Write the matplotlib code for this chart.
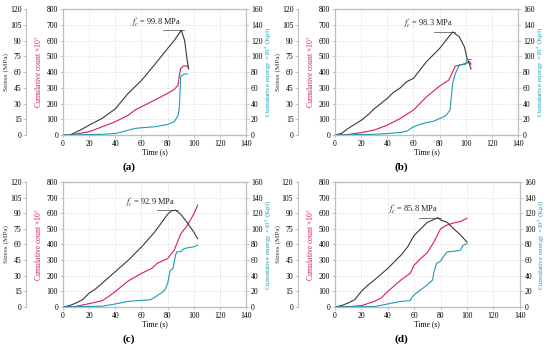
import matplotlib
matplotlib.use("Agg")
import matplotlib.pyplot as plt

plt.rcParams['font.family'] = ['Liberation Serif', 'DejaVu Serif']
plt.rcParams['mathtext.fontset'] = 'stix'

STRESS_C = '#3a3a3a'
COUNT_C = '#d81b60'
ENERGY_C = '#1e9bb8'
SPINE_C = '#bdbdbd'

# ---- panel (a) ----
a_stress_t = [0, 5, 8, 12, 18, 20, 30, 40, 50, 60, 70, 80, 85, 90, 90.5, 93, 95, 96]
a_stress = [0, 0, 1.6, 4, 8, 9.5, 16, 25, 40, 52, 67, 82.5, 90, 99, 99.8, 90, 71, 63]
a_count_t = [0, 5, 20, 30, 40, 50, 55, 60, 70, 80, 85, 88, 89, 90, 92, 95, 96]
a_count = [0, 0, 21, 53, 85, 127, 159, 180, 222, 265, 290, 317, 381, 423, 438, 440, 425]
a_energy_t = [0, 30, 40, 45, 50, 55, 60, 70, 80, 85, 88, 89, 90, 91, 93, 95]
a_energy = [0, 1, 2, 4, 6.3, 8.5, 9.3, 10.6, 13.5, 17, 25, 36, 74, 76, 77.5, 77.5]

# ---- panel (b) ----
b_stress_t = [0, 5, 10, 20, 25, 30, 40, 45, 50, 55, 60, 70, 80, 85, 90, 95, 99, 101, 103, 104]
b_stress = [0, 1.6, 6.3, 14, 19, 25, 35, 41, 45, 51, 54, 70, 82.5, 90.5, 98.3, 93.6, 84, 73, 67, 63]
b_count_t = [0, 10, 20, 30, 40, 50, 60, 70, 80, 87, 90, 92, 95, 100, 103, 104]
b_count = [0, 4, 15, 32, 63, 106, 159, 243, 311, 349, 402, 438, 444, 455, 466, 450]
b_energy_t = [0, 30, 40, 50, 55, 60, 65, 70, 75, 80, 85, 88, 90, 92, 95, 100, 101, 104]
b_energy = [0, 1, 2, 3.4, 5, 10.6, 13.5, 16, 17.4, 21, 25, 32, 66, 78, 89, 90, 96, 96]

# ---- panel (c) ----
c_stress_t = [0, 5, 10, 15, 20, 25, 30, 40, 50, 60, 70, 80, 83, 86, 90, 95, 100, 103]
c_stress = [0, 1.3, 3.8, 7, 13.3, 17.4, 22.8, 33.9, 45, 57.6, 71.8, 89, 92.4, 92.9, 89, 81, 71.8, 65.5]
c_count_t = [0, 10, 20, 30, 35, 40, 50, 60, 68, 72, 80, 85, 90, 95, 100, 103]
c_count = [0, 4, 21, 40, 67, 99, 167, 215, 247, 279, 310, 363, 468, 521, 595, 652]
c_energy_t = [0, 30, 40, 50, 60, 67, 70, 75, 78, 80, 82, 84, 86, 87, 90, 93, 100, 103]
c_energy = [0, 1, 3.8, 7.2, 8.4, 9.3, 12.2, 17.7, 22, 30, 47, 49, 66, 70.5, 71, 75, 77, 79]

# ---- panel (d) ----
d_stress_t = [0, 5, 10, 15, 20, 25, 30, 40, 50, 55, 60, 65, 70, 75, 78, 80, 85, 90, 95, 100]
d_stress = [0, 1.3, 3.8, 7, 15, 21, 26, 37, 49.7, 57.6, 68.7, 75, 81.3, 84, 85.8, 83.5, 81.3, 75, 69.3, 62.3]
d_count_t = [0, 10, 20, 30, 35, 40, 50, 57, 60, 65, 70, 75, 80, 85, 90, 95, 100]
d_count = [0, 2, 8, 36, 57, 99, 173, 215, 268, 310, 348, 416, 500, 525, 538, 547, 568]
d_energy_t = [0, 30, 40, 50, 57, 58, 60, 70, 74, 75, 77, 80, 82, 85, 90, 95, 97, 100]
d_energy = [0, 0.5, 3.8, 7.2, 8, 11.4, 15.6, 28.3, 34.6, 45, 55.7, 58.7, 64, 70.5, 71.3, 72.6, 79, 81]

peaks = [(90.5, 99.8), (90, 98.3), (86, 92.9), (78, 85.8)]
panel_labels = ['(a)', '(b)', '(c)', '(d)']

fig = plt.figure(figsize=(5.5, 3.5), dpi=100)


def style_axis(ax):
    for s in ax.spines.values():
        s.set_color(SPINE_C)
        s.set_linewidth(0.8)
    ax.tick_params(labelsize=5.5, length=2, width=0.6, color=SPINE_C, pad=1.5)


def draw_panel(rect, st_t, st, ct_t, ct, en_t, en, peak, label):
    ax = fig.add_axes(rect)
    ax.set_xlim(0, 140)
    ax.set_ylim(0, 800)
    ax.set_xticks(range(0, 141, 20))
    ax.set_yticks(range(0, 801, 100))
    ax.grid(True, color='#dddddd', linestyle=(0, (3, 2)), linewidth=0.5)
    style_axis(ax)
    ax.set_xlabel('Time (s)', fontsize=5.5, labelpad=0)
    ax.set_ylabel('Cumulative count ×10$^3$', fontsize=5.5, color=COUNT_C, labelpad=2)
    ax.plot(ct_t, ct, color=COUNT_C, lw=0.8, zorder=3)

    ax_s = ax.twinx()
    ax_s.spines['left'].set_position(('axes', -0.2))
    ax_s.spines['left'].set_visible(True)
    ax_s.spines['right'].set_visible(False)
    ax_s.yaxis.set_label_position('left')
    ax_s.yaxis.set_ticks_position('left')
    ax_s.set_ylim(0, 120)
    ax_s.set_yticks(range(0, 121, 15))
    style_axis(ax_s)
    ax_s.set_ylabel('Stress (MPa)', fontsize=5.2, color='#333333', labelpad=0.5)
    ax_s.plot(st_t, st, color=STRESS_C, lw=0.8, zorder=4)
    pt, pv = peak
    ax_s.plot([pt - 14, pt + 2], [pv, pv], color='#666666', lw=0.6)
    ax_s.text(pt, pv + 1.5, "$f_c^{\\prime}$ = %.1f MPa" % pv, ha='right', va='bottom',
              fontsize=6, color='#222222')

    ax_e = ax.twinx()
    ax_e.set_ylim(0, 160)
    ax_e.set_yticks(range(0, 161, 20))
    style_axis(ax_e)
    ax_e.set_ylabel('Cumulative energy ×10$^5$ (Kpl)', fontsize=5.2, color=ENERGY_C, labelpad=0.5)
    ax_e.plot(en_t, en, color=ENERGY_C, lw=0.8, zorder=3)

    x0, y0, w, h = rect
    fig.text(x0 + w * 0.36, y0 - 0.092, label, ha='center', va='center',
             fontsize=8, fontweight='bold')


draw_panel([0.1145, 0.614, 0.333, 0.36], a_stress_t, a_stress, a_count_t, a_count,
           a_energy_t, a_energy, peaks[0], panel_labels[0])
draw_panel([0.609, 0.614, 0.333, 0.36], b_stress_t, b_stress, b_count_t, b_count,
           b_energy_t, b_energy, peaks[1], panel_labels[1])
draw_panel([0.1145, 0.123, 0.333, 0.357], c_stress_t, c_stress, c_count_t, c_count,
           c_energy_t, c_energy, peaks[2], panel_labels[2])
draw_panel([0.609, 0.123, 0.336, 0.357], d_stress_t, d_stress, d_count_t, d_count,
           d_energy_t, d_energy, peaks[3], panel_labels[3])

fig.savefig('out.png', dpi=100)
